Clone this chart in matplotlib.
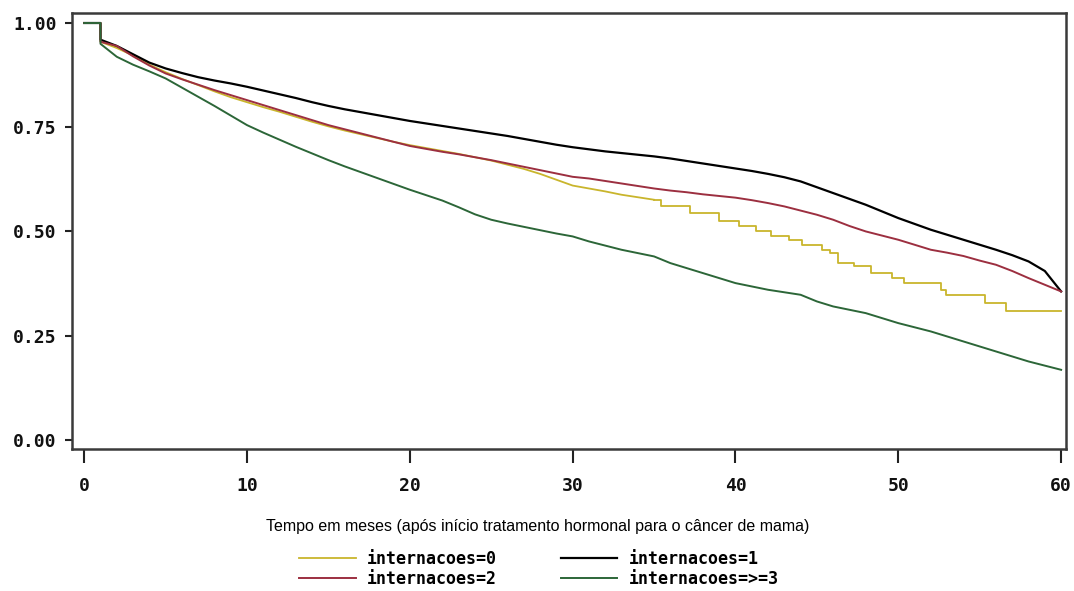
import numpy as np
import matplotlib.pyplot as plt

# Kaplan-Meier curves (time in months, survival)
# the repeated 1 gives the vertical drop of the first event
months = [0, 1] + list(range(1, 61))

surv_1 = [1.000, 1.000, 0.960, 0.945, 0.925, 0.905, 0.891, 0.880, 0.870, 0.862, 0.855,
          0.847, 0.838, 0.829, 0.820, 0.810, 0.801, 0.793, 0.786, 0.779, 0.772,
          0.765, 0.759, 0.753, 0.747, 0.741, 0.735, 0.729, 0.722, 0.715, 0.708,
          0.702, 0.697, 0.692, 0.688, 0.684, 0.680, 0.675, 0.669, 0.663, 0.657,
          0.651, 0.645, 0.638, 0.630, 0.620, 0.606, 0.592, 0.578, 0.564, 0.548,
          0.532, 0.518, 0.504, 0.492, 0.480, 0.468, 0.456, 0.443, 0.428, 0.405,
          0.356]

surv_2 = [1.000, 1.000, 0.955, 0.945, 0.920, 0.898, 0.879, 0.865, 0.852, 0.839, 0.827,
          0.815, 0.803, 0.791, 0.779, 0.767, 0.755, 0.745, 0.735, 0.725, 0.715,
          0.705, 0.698, 0.691, 0.685, 0.678, 0.671, 0.663, 0.655, 0.647, 0.639,
          0.631, 0.627, 0.621, 0.615, 0.609, 0.603, 0.598, 0.594, 0.589, 0.585,
          0.581, 0.575, 0.568, 0.560, 0.550, 0.540, 0.528, 0.513, 0.500, 0.490,
          0.480, 0.468, 0.456, 0.449, 0.441, 0.430, 0.420, 0.405, 0.388, 0.372,
          0.356]

surv_3 = [1.000, 1.000, 0.950, 0.919, 0.900, 0.884, 0.867, 0.845, 0.823, 0.801, 0.778,
          0.755, 0.737, 0.720, 0.703, 0.687, 0.671, 0.656, 0.642, 0.628, 0.614,
          0.600, 0.587, 0.574, 0.558, 0.541, 0.528, 0.519, 0.511, 0.503, 0.495,
          0.488, 0.476, 0.466, 0.456, 0.448, 0.440, 0.424, 0.412, 0.400, 0.388,
          0.376, 0.368, 0.360, 0.354, 0.348, 0.332, 0.320, 0.312, 0.304, 0.292,
          0.280, 0.270, 0.260, 0.248, 0.236, 0.224, 0.212, 0.200, 0.188, 0.178,
          0.168]

# internacoes=0: dense events up to ~35 months, then a few larger steps
time_0 = [0, 1, 1, 2, 3, 4, 5, 6, 7, 8, 9, 10, 11, 12, 13, 14, 15, 16, 17, 18, 19,
          20, 21, 22, 23, 24, 25, 26, 27, 28, 29, 30, 31, 32, 33, 34, 35, 35.4,
          37.2, 39.0, 40.2, 41.25, 42.2, 43.3, 44.1, 45.3, 45.8, 46.3, 47.3,
          48.3, 49.6, 50.35, 52.6, 52.9, 55.3, 56.6, 60]
surv_0 = [1.000, 1.000, 0.955, 0.940, 0.922, 0.900, 0.882, 0.866, 0.851, 0.836, 0.822,
          0.810, 0.798, 0.787, 0.775, 0.763, 0.752, 0.742, 0.733, 0.724, 0.715,
          0.707, 0.700, 0.693, 0.686, 0.678, 0.670, 0.660, 0.650, 0.638, 0.624,
          0.610, 0.603, 0.596, 0.588, 0.582, 0.576, 0.560, 0.544, 0.524, 0.512,
          0.500, 0.488, 0.480, 0.468, 0.456, 0.448, 0.424, 0.416, 0.401, 0.388,
          0.376, 0.360, 0.348, 0.329, 0.310, 0.310]
split_0 = 36  # index of t=35, where the sparse steps begin

labels = ['internacoes=0', 'internacoes=1', 'internacoes=2', 'internacoes=>=3']
colors = ['#c9b52c', '#000000', '#9c2f40', '#2c6638']

mono = 'DejaVu Sans Mono'

fig = plt.figure(figsize=(10.74, 5.91), dpi=100)
ax = fig.add_axes([72 / 1074, 1 - 449 / 591, 994 / 1074, 436 / 591])

ax.plot(time_0[:split_0 + 1], surv_0[:split_0 + 1], color=colors[0], lw=1.3)
l0, = ax.plot(time_0[split_0:], surv_0[split_0:], drawstyle='steps-post',
              color=colors[0], lw=1.3)
l1, = ax.plot(months, surv_1, color=colors[1], lw=1.6)
l2, = ax.plot(months, surv_2, color=colors[2], lw=1.4)
l3, = ax.plot(months, surv_3, color=colors[3], lw=1.4)

ax.set_xlim(-0.75, 60.3)
ax.set_ylim(-0.022, 1.024)
ax.set_xticks([0, 10, 20, 30, 40, 50, 60])
ax.set_yticks([0, 0.25, 0.5, 0.75, 1.0])
ax.set_yticklabels(['0.00', '0.25', '0.50', '0.75', '1.00'])
for lab in ax.get_xticklabels() + ax.get_yticklabels():
    lab.set_fontfamily(mono)
    lab.set_fontweight('bold')
    lab.set_fontsize(13)
ax.tick_params(axis='x', direction='out', length=10, width=1.5, pad=10,
               color='#222222', labelcolor='#111111')
ax.tick_params(axis='y', direction='out', length=5, width=1.5, pad=6,
               color='#222222', labelcolor='#111111')
for s in ax.spines.values():
    s.set_linewidth(1.8)
    s.set_color('#3a3a3a')

fig.text(538 / 1074, 1 - 527 / 591,
         'Tempo em meses (após início tratamento hormonal para o câncer de mama)',
         ha='center', va='center', fontsize=11.5, family='Liberation Sans')

leg = fig.legend([l0, l2, l1, l3], [labels[0], labels[2], labels[1], labels[3]],
                 ncol=2, loc='center', bbox_to_anchor=(539 / 1074, 1 - 569 / 591),
                 frameon=False, prop={'family': mono, 'weight': 'bold', 'size': 12},
                 handlelength=3.4, columnspacing=3.8, labelspacing=0.1,
                 handletextpad=0.7, borderpad=0)

fig.savefig('out.png', dpi=100)
